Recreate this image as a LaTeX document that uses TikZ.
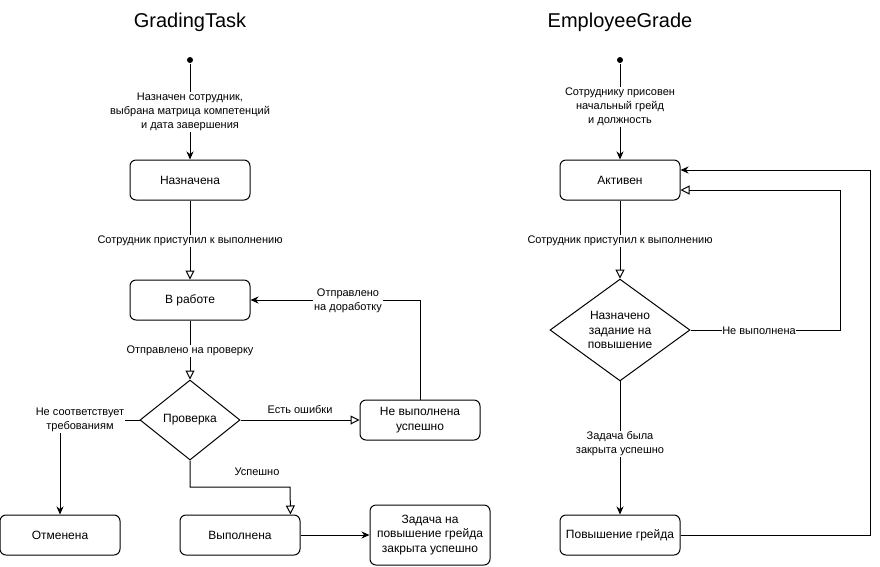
\documentclass[tikz,border=0pt]{standalone}
\usepackage{fontspec}
\setmainfont{Liberation Sans}
\usetikzlibrary{arrows.meta,shapes.geometric}
\begin{document}
\begin{tikzpicture}[x=1pt,y=-1pt,line width=1pt,
  statebox/.style={draw,rounded corners=6pt,minimum width=120pt,minimum height=40pt,
    inner sep=2pt,align=center,font=\fontsize{12}{14.5}\selectfont},
  choice/.style={draw,diamond,inner sep=0pt,align=center,font=\fontsize{12}{14.5}\selectfont},
  startdot/.style={circle,fill=black,inner sep=0pt,minimum size=6pt},
  lbl/.style={fill=white,inner sep=1pt,align=center,font=\fontsize{11}{14}\selectfont},
  ttl/.style={font=\fontsize{20}{24}\selectfont},
  fwd/.style={-{Stealth[length=8pt,width=7pt,inset=2.5pt]}},
  opn/.style={-{Triangle[length=9pt,width=9pt,fill=white,line width=1pt]}}
]
\useasboundingbox (0,0) rectangle (880,566);

% ---------- GradingTask ----------
\node[ttl] (t1) at (190,22) {GradingTask};
\node[startdot] (s1) at (190,60) {};
\node[statebox] (n1) at (190,180) {Назначена};
\node[statebox] (n2) at (190,300) {В работе};
\node[choice,minimum width=100pt,minimum height=80pt] (chk) at (190,420) {Проверка};
\node[statebox] (fail) at (420,420) {Не выполнена\\успешно};
\node[statebox] (cancel) at (60,535) {Отменена};
\node[statebox] (done) at (240,535) {Выполнена};
\node[statebox,minimum height=60pt] (goal) at (430,535) {Задача на\\повышение грейда\\закрыта успешно};
\coordinate (k1) at (290,487);

\draw[fwd] (s1) -- (n1);
\draw[opn] (n1) -- (n2);
\draw[opn] (n2) -- (chk);
\draw[opn] (chk.east) -- (fail.west);
\draw[fwd] (fail.north) |- (n2.east);
\draw[fwd] (chk.west) -| (cancel.north);
\draw[opn] (chk.south) |- (k1) -- ([xshift=-10pt]done.north east);
\draw[fwd] (done) -- (goal);

\node[lbl] (l1) at (190,112) {Назначен сотрудник,\\выбрана матрица компетенций\\и дата завершения};
\node[lbl] (l2) at (190,241) {Сотрудник приступил к выполнению};
\node[lbl] (l3) at (190,351) {Отправлено на проверку};
\node[lbl] (l4) at (300,410) {Есть ошибки};
\node[lbl] (l5) at (348,301) {Отправлено\\на доработку};
\node[lbl] (l6) at (80,420) {Не соответствует\\требованиям};
\node[lbl] (l7) at (257,472) {Успешно};

% ---------- EmployeeGrade ----------
\node[ttl] (t2) at (620,22) {EmployeeGrade};
\node[startdot] (s2) at (620,60) {};
\node[statebox] (act) at (620,180) {Активен};
\node[choice,minimum width=140pt,minimum height=100pt] (d2) at (620,330) {Назначено\\задание на\\повышение};
\node[statebox] (up) at (620,535) {Повышение грейда};
\coordinate (r1) at (840,330);
\coordinate (r2) at (870,535);

\draw[fwd] (s2) -- (act);
\draw[opn] (act) -- (d2);
\draw[opn] (d2.east) -- (r1) |- ([yshift=-10pt]act.east);
\draw[fwd] (d2) -- (up);
\draw[fwd] (up.east) -- (r2) |- ([yshift=10pt]act.east);

\node[lbl] (m1) at (620,107) {Сотруднику присовен\\начальный грейд\\и должность};
\node[lbl] (m2) at (620,241) {Сотрудник приступил к выполнению};
\node[lbl,inner sep=0.5pt] (m3) at (759,331) {Не выполнена};
\node[lbl] (m4) at (620,444) {Задача была\\закрыта успешно};
\end{tikzpicture}
\end{document}
